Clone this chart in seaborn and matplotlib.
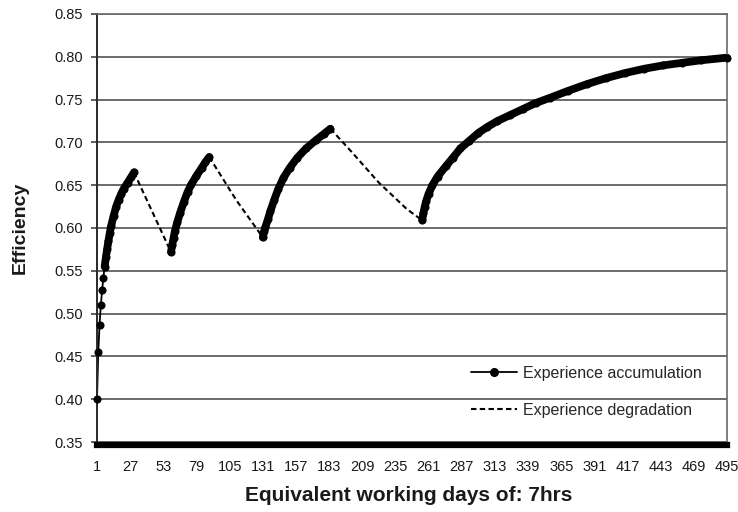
import numpy as np
import pandas as pd
import matplotlib
matplotlib.use("Agg")
import matplotlib.pyplot as plt
import seaborn as sns
from matplotlib.lines import Line2D

# ---------------- data ----------------
acc1_days = [1, 2, 3, 4, 5, 6, 7, 8, 9, 10, 11, 12, 14, 16, 18, 20, 22, 25, 28, 30]
acc1_eff = [0.400, 0.455, 0.487, 0.510, 0.527, 0.542, 0.555, 0.566, 0.576, 0.585,
            0.594, 0.602, 0.614, 0.625, 0.633, 0.640, 0.646, 0.653, 0.660, 0.665]

acc2_days = [59, 60, 61, 62, 64, 66, 69, 72, 75, 79, 83, 86, 89]
acc2_eff = [0.572, 0.580, 0.588, 0.596, 0.607, 0.617, 0.630, 0.642, 0.651, 0.661,
            0.670, 0.677, 0.683]

acc3_days = [131, 132, 133, 135, 137, 140, 143, 147, 152, 158, 165, 173, 179, 184]
acc3_eff = [0.589, 0.596, 0.601, 0.610, 0.620, 0.633, 0.645, 0.658, 0.670, 0.682,
            0.693, 0.703, 0.710, 0.716]

acc4_days = [256, 257, 258, 259, 261, 264, 268, 275, 280, 286, 293, 300, 307, 315,
             325, 335, 345, 356, 370, 385, 400, 415, 430, 445, 460, 475, 495]
acc4_eff = [0.609, 0.618, 0.625, 0.631, 0.640, 0.650, 0.660, 0.673, 0.682, 0.693,
            0.702, 0.711, 0.718, 0.725, 0.732, 0.739, 0.746, 0.752, 0.760, 0.768,
            0.775, 0.781, 0.786, 0.790, 0.793, 0.796, 0.799]

deg1_days = [30, 59]
deg1_eff = [0.665, 0.572]
deg2_days = [89, 110, 131]
deg2_eff = [0.683, 0.633, 0.589]
deg3_days = [184, 200, 222, 244, 256]
deg3_eff = [0.716, 0.690, 0.653, 0.622, 0.609]

x_ticks = list(range(1, 496, 26))
y_ticks = [0.35, 0.40, 0.45, 0.50, 0.55, 0.60, 0.65, 0.70, 0.75, 0.80, 0.85]

series_labels = ["Experience accumulation", "Experience degradation"]
x_label = "Equivalent working days of: 7hrs"
y_label = "Efficiency"

# ---------------- frames ----------------
acc_days = [acc1_days, acc2_days, acc3_days, acc4_days]
acc_effs = [acc1_eff, acc2_eff, acc3_eff, acc4_eff]
acc = pd.concat([pd.DataFrame({"day": d, "eff": e, "seg": i})
                 for i, (d, e) in enumerate(zip(acc_days, acc_effs))], ignore_index=True)
# thick band where markers merge (all except the very first steep steps)
band = pd.concat([pd.DataFrame({"day": d[6:] if i == 0 else d,
                                "eff": e[6:] if i == 0 else e, "seg": i})
                  for i, (d, e) in enumerate(zip(acc_days, acc_effs))], ignore_index=True)
thin = pd.DataFrame({"day": acc1_days[:7], "eff": acc1_eff[:7]})

deg = pd.concat([pd.DataFrame({"day": d, "eff": e, "seg": i})
                 for i, (d, e) in enumerate(zip([deg1_days, deg2_days, deg3_days],
                                                [deg1_eff, deg2_eff, deg3_eff]))],
                ignore_index=True)

# ---------------- plot ----------------
sns.set_theme(style="white")
plt.rcParams["font.family"] = ["Liberation Sans", "DejaVu Sans"]

fig = plt.figure(figsize=(7.38, 5.12), dpi=100)
ax = fig.add_axes([97 / 738, 1 - 442 / 512, 630 / 738, 428 / 512])

dash = (0, (2.6, 1.6))
sns.lineplot(data=deg, x="day", y="eff", units="seg", estimator=None, sort=False,
             color="black", lw=1.5, linestyle=dash, ax=ax, legend=False)
sns.lineplot(data=band, x="day", y="eff", units="seg", estimator=None, sort=False,
             color="black", lw=5.6, ax=ax, legend=False, clip_on=False,
             solid_capstyle="round")
sns.lineplot(data=thin, x="day", y="eff", estimator=None, sort=False,
             color="black", lw=1.3, ax=ax, legend=False, clip_on=False)
sns.scatterplot(data=acc, x="day", y="eff", color="black", s=34, linewidth=0,
                ax=ax, legend=False, clip_on=False, zorder=3)

ax.set_xlim(1, 495)
ax.set_ylim(0.35, 0.85)
ax.set_xticks(x_ticks)
ax.set_xticklabels([str(v) for v in x_ticks])
ax.set_yticks(y_ticks)
ax.set_yticklabels([f"{v:.2f}" for v in y_ticks])

ax.grid(False)
ax.grid(axis="y", color="#6a6a6a", lw=1.4)
ax.set_axisbelow(True)

for s in ["top", "right"]:
    ax.spines[s].set_visible(True)
    ax.spines[s].set_color("#6a6a6a")
    ax.spines[s].set_linewidth(1.2)
ax.spines["left"].set_color("#2a2a2a")
ax.spines["left"].set_linewidth(1.4)
ax.spines["bottom"].set_color("black")
ax.spines["bottom"].set_linewidth(4.5)
ax.spines["bottom"].set_position(("outward", 2))

ax.tick_params(axis="y", left=True, length=4.3, width=1.2, color="#444444",
               direction="out", pad=6, labelsize=10.5, labelcolor="#1a1a1a")
ax.tick_params(axis="x", bottom=True, length=0, pad=11, labelsize=10.5,
               labelcolor="#1a1a1a")

ax.set_xlabel(x_label, fontsize=15, fontweight="bold", color="#1a1a1a")
ax.set_ylabel(y_label, fontsize=14, fontweight="bold", color="#1a1a1a")
ax.xaxis.label.set_va("center")
ax.xaxis.set_label_coords(0.495, -0.124)
ax.yaxis.label.set_va("center")
ax.yaxis.set_label_coords(-0.122, 0.5)

handles = [Line2D([], [], color="black", lw=1.3, marker="o", ms=5.5),
           Line2D([], [], color="black", lw=1.5, linestyle=dash)]
ax.legend(handles, series_labels, loc="upper left",
          bbox_to_anchor=(471 / 738, 1 - 366 / 512), bbox_transform=fig.transFigure,
          frameon=False, fontsize=11.5, handlelength=2.9, handletextpad=0.35,
          labelspacing=1.35, borderpad=0, borderaxespad=0)

fig.savefig("out.png", dpi=100)
